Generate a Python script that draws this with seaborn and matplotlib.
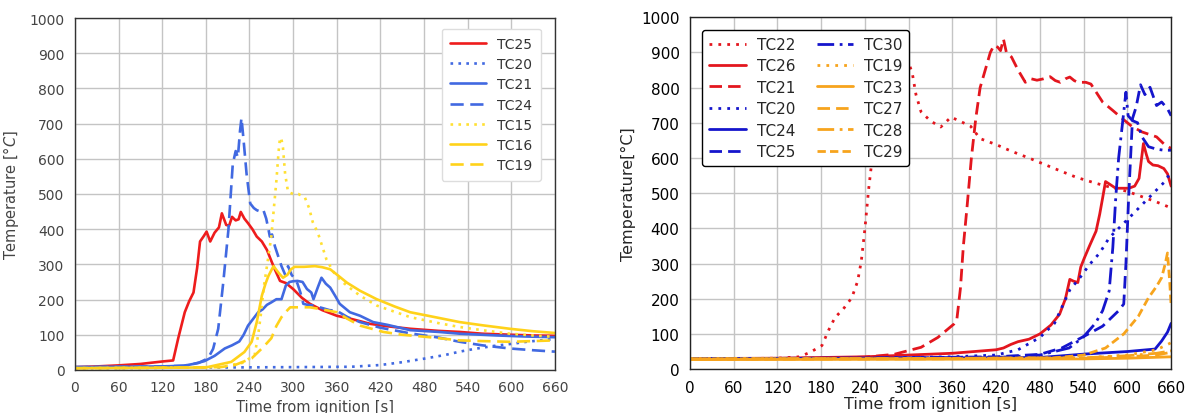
import matplotlib
matplotlib.use("Agg")
import matplotlib.pyplot as plt
from matplotlib.ticker import MultipleLocator
import seaborn as sns

# ---- left panel data (time [s], temperature [C]) ----
l_tc25_t = [0, 30, 60, 90, 120, 135, 142, 151, 157, 163, 168, 172, 177, 181, 186, 192, 198, 202, 208, 212,
            216, 221, 225, 228, 233, 238, 244, 250, 257, 264, 270, 275, 282, 290, 300, 312, 323, 340, 360,
            380, 406, 430, 461, 500, 529, 560, 600, 630, 660]
l_tc25_v = [8, 10, 13, 17, 24, 27, 90, 164, 195, 220, 290, 365, 380, 393, 365, 390, 405, 445, 412, 410,
            435, 425, 428, 449, 430, 417, 400, 379, 365, 341, 310, 285, 253, 247, 230, 205, 188, 170, 154,
            145, 131, 124, 117, 111, 108, 103, 100, 98, 97]

l_tc20_t = [0, 100, 200, 300, 380, 420, 450, 483, 510, 529, 550, 575, 600, 621, 640, 660]
l_tc20_v = [5, 6, 7, 8, 9, 14, 22, 33, 43, 52, 60, 68, 74, 80, 84, 88]

l_tc21_t = [0, 60, 120, 150, 165, 178, 192, 206, 216, 226, 232, 238, 245, 252, 258, 264, 270, 277, 284,
            290, 295, 300, 306, 313, 319, 325, 328, 334, 339, 345, 351, 358, 364, 378, 392, 410, 430, 461,
            500, 529, 580, 620, 660]
l_tc21_v = [8, 9, 10, 12, 18, 25, 40, 61, 70, 81, 100, 126, 145, 164, 172, 185, 192, 201, 201,
            240, 250, 252, 253, 250, 230, 220, 201, 235, 262, 245, 234, 210, 188, 164, 154, 136, 128, 113,
            108, 103, 98, 95, 93]

l_tc24_t = [0, 60, 120, 150, 170, 183, 190, 197, 204, 211, 217, 221, 224, 227, 229, 232, 236, 241, 246,
            250, 255, 259, 263, 266, 268, 271, 275, 280, 284, 289, 293, 298, 302, 306, 310, 314, 320, 328,
            340, 350, 360, 375, 392, 420, 461, 500, 529, 560, 598, 630, 660]
l_tc24_v = [8, 9, 10, 12, 20, 33, 60, 117, 250, 398, 585, 622, 604, 680, 716, 650, 557, 473, 460,
            454, 450, 455, 430, 400, 379, 385, 351, 320, 295, 271, 295, 270, 260, 245, 220, 188, 185, 183,
            176, 170, 168, 150, 136, 120, 104, 92, 80, 70, 61, 56, 52]

l_tc15_t = [0, 100, 200, 230, 247, 252, 256, 260, 264, 270, 274, 277, 280, 282, 284, 286, 289, 293, 300,
            307, 316, 322, 327, 334, 346, 358, 369, 380, 392, 415, 440, 461, 500, 529, 560, 598, 630, 660]
l_tc15_v = [5, 6, 8, 20, 42, 100, 164, 240, 295, 379, 470, 538, 620, 660, 655, 632, 557, 506, 500,
            500, 491, 460, 420, 390, 313, 270, 248, 230, 211, 183, 165, 150, 133, 122, 113, 103, 98, 94]

l_tc16_t = [0, 100, 180, 215, 233, 243, 250, 257, 262, 266, 273, 280, 286, 292, 297, 302, 315, 330, 340,
            351, 362, 374, 392, 415, 440, 461, 500, 529, 560, 598, 630, 660]
l_tc16_v = [5, 6, 7, 23, 51, 80, 136, 211, 245, 267, 295, 276, 262, 270, 286, 293, 293, 295, 292,
            286, 268, 248, 225, 201, 180, 164, 148, 136, 127, 117, 110, 105]

l_tc19_t = [0, 100, 200, 220, 243, 259, 270, 277, 284, 290, 296, 300, 323, 340, 360, 375, 392, 424, 450,
            483, 529, 560, 598, 630, 660]
l_tc19_v = [5, 6, 8, 14, 33, 65, 90, 125, 150, 165, 178, 178, 178, 172, 164, 145, 126, 108, 100,
            94, 84, 82, 80, 82, 84]

# ---- right panel data ----
r_tc22_t = [0, 60, 120, 150, 165, 181, 190, 199, 210, 222, 230, 235, 240, 245, 250, 255, 260, 265, 270,
            280, 290, 299, 305, 310, 317, 330, 344, 350, 358, 370, 385, 398, 420, 440, 466, 500, 530, 557,
            580, 600, 620, 640, 660]
r_tc22_v = [30, 30, 31, 35, 48, 67, 110, 147, 170, 203, 250, 307, 400, 510, 600, 650, 665, 700, 730,
            800, 840, 877, 840, 780, 731, 705, 688, 700, 716, 705, 690, 655, 638, 620, 599, 570, 545, 528,
            515, 505, 490, 475, 458]

r_tc26_t = [0, 120, 240, 300, 360, 420, 430, 440, 450, 465, 480, 495, 507, 515, 521, 526, 532, 536, 541,
            548, 557, 562, 566, 570, 576, 584, 602, 610, 616, 622, 626, 629, 635, 642, 650, 655, 660]
r_tc26_v = [30, 31, 35, 40, 45, 55, 60, 70, 78, 85, 100, 125, 156, 200, 255, 250, 246, 290, 316,
            350, 392, 440, 486, 533, 525, 514, 514, 520, 542, 641, 610, 590, 580, 578, 570, 555, 520]

r_tc21_t = [0, 120, 200, 240, 280, 317, 340, 362, 366, 371, 375, 380, 386, 392, 398, 405, 412, 417, 422,
            426, 430, 434, 441, 450, 460, 468, 476, 485, 494, 501, 508, 515, 521, 527, 532, 543, 550, 566,
            580, 593, 606, 620, 640, 650, 660]
r_tc21_v = [30, 30, 32, 34, 42, 62, 90, 128, 140, 230, 350, 460, 600, 712, 800, 850, 900, 920, 915,
            905, 938, 900, 887, 850, 815, 825, 821, 825, 831, 820, 815, 825, 830, 820, 815, 815, 810, 759,
            735, 712, 690, 674, 660, 640, 627]

r_tc20_t = [0, 120, 240, 360, 420, 450, 480, 500, 521, 535, 548, 562, 575, 588, 602, 611, 629, 638, 650, 660]
r_tc20_v = [30, 30, 31, 35, 40, 55, 90, 130, 225, 260, 297, 330, 373, 400, 429, 448, 486, 505, 530, 560]

r_tc24_t = [0, 240, 480, 543, 600, 638, 647, 655, 660]
r_tc24_v = [30, 31, 33, 43, 50, 57, 80, 105, 130]

r_tc25_t = [0, 240, 420, 480, 510, 543, 566, 588, 595, 598, 602, 607, 612, 618, 624, 631, 640, 647, 655, 660]
r_tc25_v = [30, 31, 35, 42, 60, 96, 122, 166, 185, 300, 500, 712, 745, 808, 780, 801, 749, 759, 740, 720]

r_tc30_t = [0, 240, 420, 480, 520, 539, 556, 566, 575, 580, 584, 588, 593, 598, 601, 607, 614, 620, 629,
            640, 650, 660]
r_tc30_v = [30, 31, 33, 40, 60, 90, 130, 166, 222, 345, 486, 600, 693, 787, 720, 706, 700, 660, 632,
            625, 622, 622]

r_tc19_t = [0, 300, 540, 600, 640, 660]
r_tc19_v = [30, 30, 32, 40, 55, 75]
r_tc23_t = [0, 300, 540, 600, 660]
r_tc23_v = [27, 28, 29, 31, 35]
r_tc27_t = [0, 300, 540, 600, 640, 660]
r_tc27_v = [28, 29, 31, 35, 40, 48]
r_tc28_t = [0, 300, 540, 600, 640, 660]
r_tc28_v = [29, 30, 32, 38, 45, 52]
r_tc29_t = [0, 300, 500, 540, 570, 595, 615, 629, 640, 647, 652, 655, 658, 660]
r_tc29_v = [29, 30, 32, 40, 60, 100, 150, 203, 235, 260, 300, 330, 250, 180]

sns.set_style("white")
plt.rcParams["font.family"] = ["DejaVu Sans"]

fig = plt.figure(figsize=(11.88, 4.14), dpi=100)
ax1 = fig.add_axes([0.0631, 0.104, 0.404, 0.850])
ax2 = fig.add_axes([0.5808, 0.106, 0.405, 0.850])

# ---- left ----
left_series = [
    ("TC25", l_tc25_t, l_tc25_v, "#ee1c1c", "-"),
    ("TC20", l_tc20_t, l_tc20_v, "#4169e1", (0, (1, 2))),
    ("TC21", l_tc21_t, l_tc21_v, "#4169e1", "-"),
    ("TC24", l_tc24_t, l_tc24_v, "#4169e1", (0, (5, 2.5))),
    ("TC15", l_tc15_t, l_tc15_v, "#ffe033", (0, (1, 2))),
    ("TC16", l_tc16_t, l_tc16_v, "#ffd21a", "-"),
    ("TC19", l_tc19_t, l_tc19_v, "#ffd21a", (0, (5, 2.5))),
]
for name, t, v, c, ls in left_series:
    sns.lineplot(x=t, y=v, ax=ax1, color=c, linestyle=ls, lw=1.9, label=name)

# ---- right ----
right_series = [
    ("TC22", r_tc22_t, r_tc22_v, "#e3161e", (0, (1, 2.2))),
    ("TC26", r_tc26_t, r_tc26_v, "#e3161e", "-"),
    ("TC21", r_tc21_t, r_tc21_v, "#e3161e", (0, (4.5, 2.2))),
    ("TC20", r_tc20_t, r_tc20_v, "#1515cc", (0, (1, 2.2))),
    ("TC24", r_tc24_t, r_tc24_v, "#1515cc", "-"),
    ("TC25", r_tc25_t, r_tc25_v, "#1515cc", (0, (4.5, 2.2))),
    ("TC30", r_tc30_t, r_tc30_v, "#1515cc", (0, (6, 2, 1, 2))),
    ("TC19", r_tc19_t, r_tc19_v, "#f7a41d", (0, (1, 2.2))),
    ("TC23", r_tc23_t, r_tc23_v, "#f7a41d", "-"),
    ("TC27", r_tc27_t, r_tc27_v, "#f7a41d", (0, (4.5, 2.2))),
    ("TC28", r_tc28_t, r_tc28_v, "#f7a41d", (0, (6, 2, 1, 2))),
    ("TC29", r_tc29_t, r_tc29_v, "#f7a41d", (0, (3, 1.5))),
]
for name, t, v, c, ls in right_series:
    sns.lineplot(x=t, y=v, ax=ax2, color=c, linestyle=ls, lw=2.0, label=name)

for ax in (ax1, ax2):
    ax.set_xlim(0, 660)
    ax.set_ylim(0, 1000)
    ax.xaxis.set_major_locator(MultipleLocator(60))
    ax.yaxis.set_major_locator(MultipleLocator(100))
    ax.grid(True, which="major", color="#c4c4c4", lw=1.0)
    ax.set_axisbelow(True)

# left styling: grey text, fine minor ticks on y only
ax1.yaxis.set_minor_locator(MultipleLocator(10))
ax1.tick_params(axis="both", which="major", labelsize=10, colors="#444444", length=4, direction="out")
ax1.tick_params(axis="y", which="minor", length=2, colors="#444444")
for s in ax1.spines.values():
    s.set_color("#333333")
    s.set_linewidth(1.0)
ax1.set_xlabel("Time from ignition [s]", fontsize=10.5, color="#444444", labelpad=3)
ax1.set_ylabel(r"Temperature [$\degree C$]", fontsize=10.5, color="#444444", labelpad=6)
leg1 = ax1.legend(loc="upper right", fontsize=10, frameon=True, fancybox=True, edgecolor="#dddddd",
                  framealpha=1.0, handlelength=2.6, labelspacing=0.45, borderpad=0.6,
                  bbox_to_anchor=(0.985, 0.99))
for txt in leg1.get_texts():
    txt.set_color("#333333")

# right styling: black text, minor ticks on both axes
ax2.xaxis.set_minor_locator(MultipleLocator(20))
ax2.yaxis.set_minor_locator(MultipleLocator(20))
ax2.tick_params(axis="both", which="major", labelsize=11, colors="black", length=4, direction="out")
ax2.tick_params(axis="both", which="minor", length=2)
for s in ax2.spines.values():
    s.set_color("#222222")
    s.set_linewidth(1.0)
ax2.set_xlabel("Time from ignition [s]", fontsize=11.5, labelpad=1)
ax2.set_ylabel("Temperature[°C]", fontsize=11.5, labelpad=4)
ax2.legend(loc="upper left", ncol=2, fontsize=11, frameon=True, fancybox=True, edgecolor="black",
           framealpha=1.0, handlelength=2.4, handletextpad=0.7, labelspacing=0.42, columnspacing=1.4,
           borderpad=0.45, bbox_to_anchor=(0.01, 0.985))

fig.savefig("out.png", dpi=100)
